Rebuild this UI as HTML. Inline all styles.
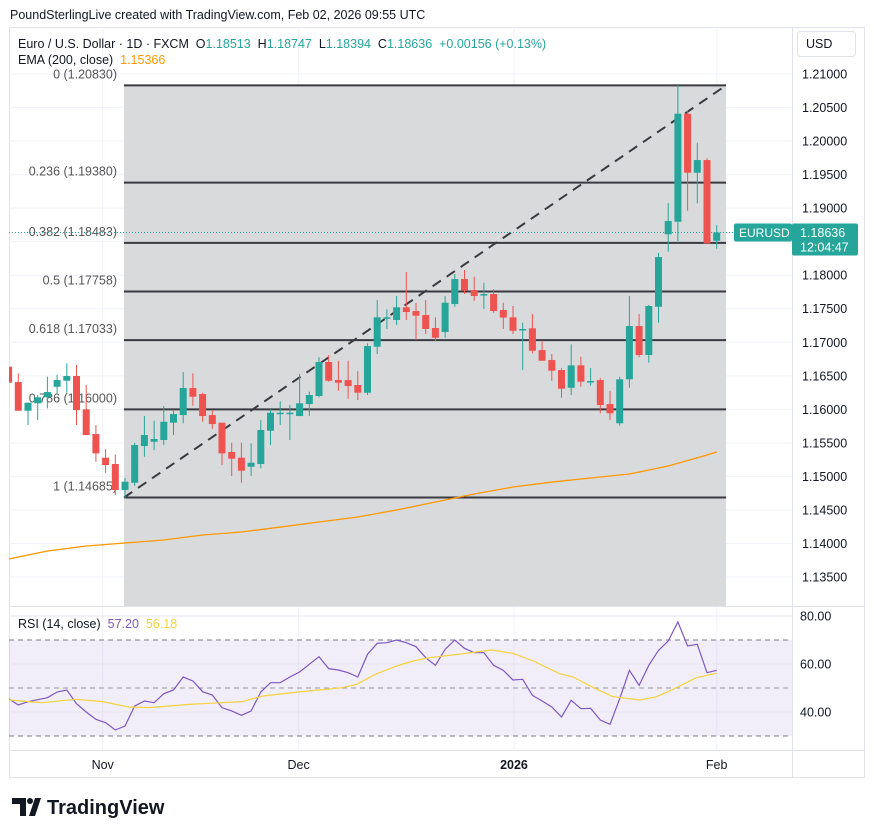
<!DOCTYPE html>
<html><head><meta charset="utf-8"><style>
body{margin:0;background:#fff;}
svg{display:block;font-family:"Liberation Sans",sans-serif;}
text{white-space:pre;}
</style></head><body>
<svg id="c" width="874" height="837" xmlns="http://www.w3.org/2000/svg">
<defs><clipPath id="pc"><rect x="9" y="27" width="783" height="579"/></clipPath>
<clipPath id="rc"><rect x="9" y="606" width="783" height="144"/></clipPath></defs>
<text x="10" y="19" font-size="12.5" fill="#131722">PoundSterlingLive created with TradingView.com, Feb 02, 2026 09:55 UTC</text>
<rect x="9.5" y="27.5" width="855" height="750" fill="none" stroke="#e0e3eb"/>
<g id="grid"></g>
<rect x="124" y="85" width="602" height="521" fill="#d9dadc"/>
<g id="fib"></g>
<g id="ema" clip-path="url(#pc)"></g>
<g id="candles" clip-path="url(#pc)"></g>
<g id="rsi"></g>
<line x1="792.5" y1="27" x2="792.5" y2="777" stroke="#e0e3eb"/>
<line x1="9" y1="606.5" x2="864" y2="606.5" stroke="#e0e3eb"/>
<line x1="9" y1="750.5" x2="864" y2="750.5" stroke="#e0e3eb"/>
<g id="axis"></g>
<g id="taxis"></g>
<rect x="797.5" y="31.5" width="58" height="25" rx="3" fill="#fff" stroke="#e0e3eb"/>
<text x="806" y="48" font-size="12.5" fill="#131722">USD</text>
<text x="18" y="48" font-size="12.5" fill="#131722" xml:space="preserve">Euro / U.S. Dollar · 1D · FXCM  O<tspan fill="#26a69a">1.18513</tspan>  H<tspan fill="#26a69a">1.18747</tspan>  L<tspan fill="#26a69a">1.18394</tspan>  C<tspan fill="#26a69a">1.18636</tspan>  <tspan fill="#26a69a">+0.00156 (+0.13%)</tspan></text>
<text x="18" y="64" font-size="12.5" fill="#131722" xml:space="preserve">EMA (200, close)  <tspan fill="#ff9800">1.15366</tspan></text>
<text x="18" y="628" font-size="12.5" fill="#131722" xml:space="preserve">RSI (14, close)  <tspan fill="#7e57c2">57.20</tspan>  <tspan fill="#f5d23b">56.18</tspan></text>
<g>
<path d="M12 798h14v18h-6v-12h-8z M29 816l6-18h6l-6 18z" fill="#131722"/>
<circle cx="30" cy="801" r="3" fill="#131722"/>
<text x="47" y="814" font-size="20" font-weight="bold" fill="#131722">TradingView</text></g>
</svg>
<script>
const open=[1.16636,1.16407,1.15979,1.16090,1.16179,1.16337,1.16427,1.16497,1.16000,1.15632,1.15279,1.15185,1.14797,1.14906,1.15453,1.15517,1.15543,1.15801,1.15915,1.16318,1.16228,1.15915,1.15801,1.15364,1.15279,1.15144,1.15185,1.15681,1.15941,1.15941,1.15900,1.16079,1.16199,1.16706,1.16437,1.16437,1.16363,1.16248,1.16934,1.17362,1.17332,1.17521,1.17466,1.17406,1.17213,1.17153,1.17570,1.17943,1.17779,1.17712,1.17719,1.17481,1.17372,1.17190,1.17208,1.16884,1.16735,1.16586,1.16322,1.16656,1.16415,1.16437,1.16079,1.15792,1.16448,1.17242,1.16810,1.17530,1.18610,1.18797,1.20408,1.19528,1.19717,1.18513];
const high=[1.16636,1.16537,1.16099,1.16214,1.16486,1.16516,1.16686,1.16661,1.16363,1.15766,1.15408,1.15329,1.14981,1.15502,1.15900,1.15830,1.16050,1.15979,1.16556,1.16537,1.16248,1.15990,1.15801,1.15502,1.15502,1.15493,1.15841,1.16000,1.16120,1.16064,1.16527,1.16263,1.16776,1.16810,1.16725,1.16725,1.16571,1.16984,1.17630,1.17491,1.17690,1.18047,1.17590,1.17630,1.17372,1.17690,1.18018,1.18077,1.17977,1.17888,1.17790,1.17590,1.17541,1.17292,1.17421,1.17023,1.16825,1.16612,1.16969,1.16785,1.16616,1.16463,1.16273,1.16486,1.17690,1.17421,1.17555,1.18331,1.19076,1.20836,1.20452,1.19975,1.19743,1.18747];
const low=[1.16397,1.15979,1.15766,1.15841,1.16015,1.16239,1.16248,1.15766,1.15617,1.15219,1.15055,1.14723,1.14673,1.14861,1.15294,1.15393,1.15468,1.15617,1.15792,1.16054,1.15815,1.15707,1.15170,1.15006,1.14906,1.15006,1.15121,1.15468,1.15766,1.15543,1.15900,1.15900,1.16179,1.16412,1.16278,1.16158,1.16139,1.16214,1.16825,1.17198,1.17257,1.17332,1.17034,1.17123,1.17019,1.17068,1.17530,1.17719,1.17615,1.17496,1.17441,1.17198,1.17123,1.16586,1.16835,1.16725,1.16427,1.16173,1.16214,1.16337,1.16352,1.15941,1.15841,1.15756,1.16322,1.16776,1.16695,1.17292,1.18350,1.18510,1.18961,1.19072,1.18475,1.18394];
const close=[1.16397,1.15979,1.16099,1.16179,1.16258,1.16437,1.16497,1.15990,1.15617,1.15344,1.15170,1.14797,1.14921,1.15468,1.15617,1.15558,1.15815,1.15930,1.16318,1.16188,1.15900,1.15781,1.15344,1.15264,1.15085,1.15204,1.15692,1.15950,1.15950,1.15950,1.16090,1.16214,1.16706,1.16427,1.16397,1.16348,1.16248,1.16944,1.17372,1.17372,1.17521,1.17451,1.17396,1.17198,1.17068,1.17590,1.17943,1.17769,1.17690,1.17719,1.17466,1.17369,1.17172,1.17198,1.16874,1.16725,1.16576,1.16308,1.16656,1.16412,1.16422,1.16064,1.15941,1.16448,1.17242,1.16810,1.17541,1.18271,1.18808,1.20408,1.19528,1.19717,1.18475,1.18636];
const emaIdx=[0,4,8,12,16,20,24,28,32,36,40,44,48,52,56,60,64,68,72,73];
const emaVal=[1.13768,1.13888,1.13962,1.14007,1.14052,1.14126,1.14171,1.14245,1.14320,1.14395,1.14499,1.14618,1.14738,1.14842,1.14916,1.14976,1.15036,1.15155,1.15319,1.15364];
const rsiVal=[45.56,42.92,44.31,45.14,45.97,48.33,49.17,43.47,40.0,36.94,35.56,32.5,34.17,42.5,44.58,43.89,47.64,49.17,54.58,52.92,48.47,47.08,41.81,40.42,38.61,40.42,48.33,52.22,52.22,54.58,56.67,59.86,63.06,58.06,57.5,56.39,54.58,64.03,68.61,68.89,70.0,68.89,67.22,62.64,59.44,66.11,70.0,66.53,64.72,64.72,59.44,57.36,53.33,53.61,46.94,44.58,42.08,37.92,44.86,41.39,41.53,36.67,34.86,45.56,57.36,51.11,59.44,65.69,69.58,77.5,67.5,68.19,56.39,57.36];
const maIdx=[0,3.5,6.9,9.7,12.4,14.5,16.5,18.6,20.7,24.1,26.2,29.9,34.4,35.9,37.8,40,41.7,43.4,46.9,49.8,52,54.1,56.8,58.2,60.3,62.3,65.1,66.8,68.5,70.9,73];
const maVal=[45.0,43.89,45.28,44.31,42.08,41.81,42.5,43.19,43.61,44.31,46.67,48.33,50.14,51.53,55.69,59.17,61.25,62.64,64.31,65.83,64.44,61.25,55.97,54.58,50.14,46.39,45.0,46.39,49.44,54.31,56.18];
const fibLevels=[0,0.236,0.382,0.5,0.618,0.786,1];
const fibPrices=[1.20830,1.19380,1.18483,1.17758,1.17033,1.16000,1.14685];
const fibLabels=["0 (1.20830)","0.236 (1.19380)","0.382 (1.18483)","0.5 (1.17758)","0.618 (1.17033)","0.786 (1.16000)","1 (1.14685)"];
const priceTicks=[1.21,1.205,1.2,1.195,1.19,1.185,1.18,1.175,1.17,1.165,1.16,1.155,1.15,1.145,1.14,1.135];
const rsiTicks=[80,60,40];
const timeLabels=["Nov","Dec","2026","Feb"];
const timeIdx=[9.7,29.9,52.1,73];

const NS="http://www.w3.org/2000/svg";
const X=i=>8.6+i*9.7;
const Y=p=>74+(1.21-p)*6707;
const RY=v=>616+(80-v)*2.4;
function mk(tag,attrs,parent,txt){const e=document.createElementNS(NS,tag);for(const k in attrs)e.setAttribute(k,attrs[k]);if(txt!==undefined)e.textContent=txt;parent.appendChild(e);return e;}
const grid=document.getElementById('grid');
priceTicks.forEach(p=>{const l=mk('line',{x1:9,x2:792,y1:Y(p),y2:Y(p),stroke:'#f0f3fa'},grid);

});
timeIdx.forEach(t=>{const l=mk('line',{x1:X(t),x2:X(t),y1:27,y2:750,stroke:'#f0f3fa'},grid);

});
const fib=document.getElementById('fib');
fibPrices.forEach((p,k)=>{const y=Y(p);
const l=mk('line',{x1:124,x2:726,y1:y,y2:y,stroke:'#3a3b40','stroke-width':2},fib);


const t=mk('text',{x:117,y:y-7,'text-anchor':'end','font-size':12.5,fill:'#555'},fib,fibLabels[k]);

});
const tl=mk('line',{x1:124,y1:Y(fibPrices[6]),x2:726,y2:Y(fibPrices[0]),stroke:'#3a3b40','stroke-width':2,'stroke-dasharray':'10 7'},fib);


const eg=document.getElementById('ema');
const ep=mk('polyline',{points:emaIdx.map((i,k)=>X(i)+','+Y(emaVal[k])).join(' '),fill:'none',stroke:'#ff9800','stroke-width':1.3},eg);


const lp=mk('line',{x1:9,x2:734,y1:Y(close[close.length-1]),y2:Y(close[close.length-1]),stroke:'#26a69a','stroke-dasharray':'1 2'},eg);


const cg=document.getElementById('candles');
open.forEach((o,i)=>{const c=close[i],up=c>=o,col=up?'#26a69a':'#ef5350',x=X(i);
const g=mk('g',{},cg);


mk('line',{x1:x,x2:x,y1:Y(high[i]),y2:Y(low[i]),stroke:col,'stroke-width':1},g);
const t=Y(Math.max(o,c)),b=Y(Math.min(o,c));
mk('rect',{x:x-3.5,y:t,width:7,height:Math.max(1.5,b-t),fill:col},g);});
const rg=document.getElementById('rsi');
const band=mk('rect',{x:9,y:RY(70),width:783,height:RY(30)-RY(70),fill:'#7e57c2','fill-opacity':0.1},rg);


[70,50,30].forEach(v=>{const l=mk('line',{x1:9,x2:792,y1:RY(v),y2:RY(v),stroke:v==50?'#9598a1':'#787b86','stroke-dasharray':'5 4'},rg);

});
rsiTicks.forEach(v=>{const l=mk('line',{x1:9,x2:792,y1:RY(v),y2:RY(v),stroke:'#e6e3f0'},rg);

});
const rp=mk('polyline',{points:rsiVal.map((v,i)=>X(i)+','+RY(v)).join(' '),fill:'none',stroke:'#7e57c2','stroke-width':1.2,'clip-path':'url(#rc)'},rg);


const mp=mk('polyline',{points:maIdx.map((i,k)=>X(i)+','+RY(maVal[k])).join(' '),fill:'none',stroke:'#f5d23b','stroke-width':1.2,'clip-path':'url(#rc)'},rg);


const ax=document.getElementById('axis');
priceTicks.forEach(p=>{const t=mk('text',{x:802,y:Y(p)+4.5,'font-size':12.5,fill:'#131722'},ax,p.toFixed(5));

});
rsiTicks.forEach(v=>{const t=mk('text',{x:800,y:RY(v)+4.5,'font-size':12.5,fill:'#131722'},ax,v.toFixed(2));

});
const ly=Y(close[close.length-1]);
const b1=mk('rect',{x:734,y:ly-9,width:58,height:18,rx:2,fill:'#26a69a'},ax);


const b1t=mk('text',{x:739,y:ly+4.5,'font-size':12,fill:'#fff'},ax,'EURUSD');


const b2=mk('rect',{x:792,y:ly-9,width:66,height:32,rx:2,fill:'#26a69a'},ax);


const b2t=mk('text',{x:800,y:ly+4.5,'font-size':12.5,fill:'#fff'},ax,close[close.length-1].toFixed(5));


const b3t=mk('text',{x:800,y:ly+19,'font-size':12.5,fill:'#fff'},ax,'12:04:47');


const ta=document.getElementById('taxis');
timeLabels.forEach((s,k)=>{const t=mk('text',{x:X(timeIdx[k]),y:769,'text-anchor':'middle','font-size':12.5,fill:'#131722','font-weight':s=='2026'?'bold':'normal'},ta,s);

});
</script>
</body></html>
